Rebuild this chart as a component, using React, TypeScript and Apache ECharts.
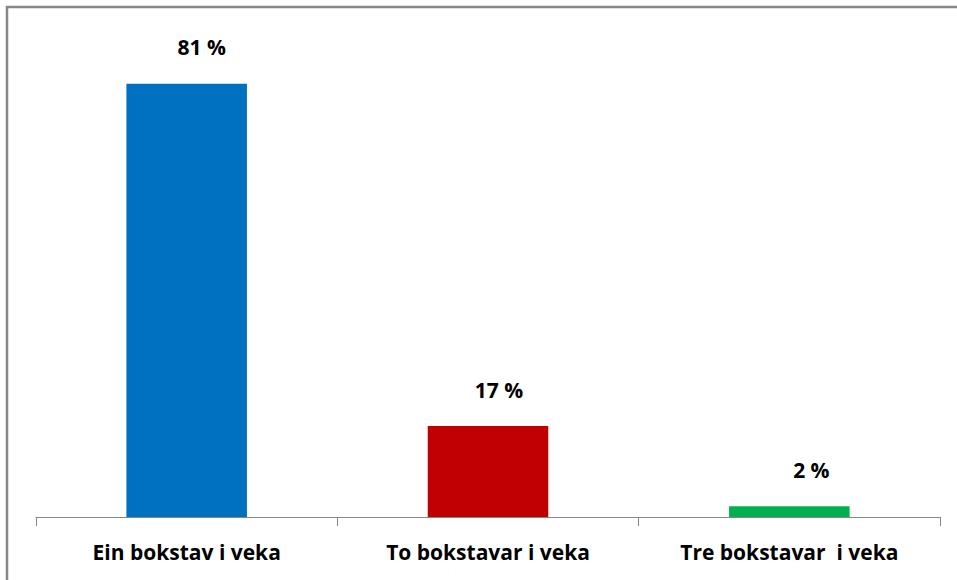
import React, { useEffect, useRef } from "react";
import * as echarts from "echarts";

const categories = ["Ein bokstav i veka", "To bokstavar i veka", "Tre bokstavar  i veka"];
const values = [81, 17, 2];
const colors = ["#0070C0", "#C00000", "#00B050"];
const labelShiftX = [15, 11, 22];

export default function App() {
  const ref = useRef<HTMLDivElement>(null);
  useEffect(() => {
    const chart = echarts.init(ref.current!, null, { renderer: "svg" });
    chart.setOption({
      animation: false,
      backgroundColor: "#ffffff",
      graphic: [
        {
          type: "rect",
          shape: { x: 7, y: 7, width: 970, height: 600 },
          style: { fill: "none", stroke: "#878787", lineWidth: 2.5 },
          silent: true,
        },
      ],
      grid: { left: 36, right: 17, top: 35.5, bottom: 63, containLabel: false },
      xAxis: {
        type: "category",
        data: categories,
        axisLine: { lineStyle: { color: "#868686", width: 1 } },
        axisTick: { show: true, length: 9, lineStyle: { color: "#868686" } },
        axisLabel: {
          color: "#000000",
          fontFamily: "Open Sans",
          fontWeight: "bold",
          fontSize: 21,
          margin: 24,
          interval: 0,
        },
      },
      yAxis: {
        type: "value",
        min: 0,
        max: 90,
        show: false,
        splitLine: { show: false },
      },
      series: [
        {
          type: "bar",
          barWidth: "40%",
          data: values.map((v, i) => ({
            value: v,
            itemStyle: { color: colors[i] },
            label: { offset: [labelShiftX[i], 0] },
          })),
          label: {
            show: true,
            position: "top",
            distance: 26,
            formatter: (p: any) => `${p.value} %`,
            color: "#000000",
            fontFamily: "Open Sans",
            fontWeight: "bold",
            fontSize: 21,
          },
        },
      ],
    });
    return () => chart.dispose();
  }, []);
  return (
    <div
      ref={ref}
      style={{ position: "absolute", left: 0, top: 0, width: 957, height: 580 }}
    />
  );
}
